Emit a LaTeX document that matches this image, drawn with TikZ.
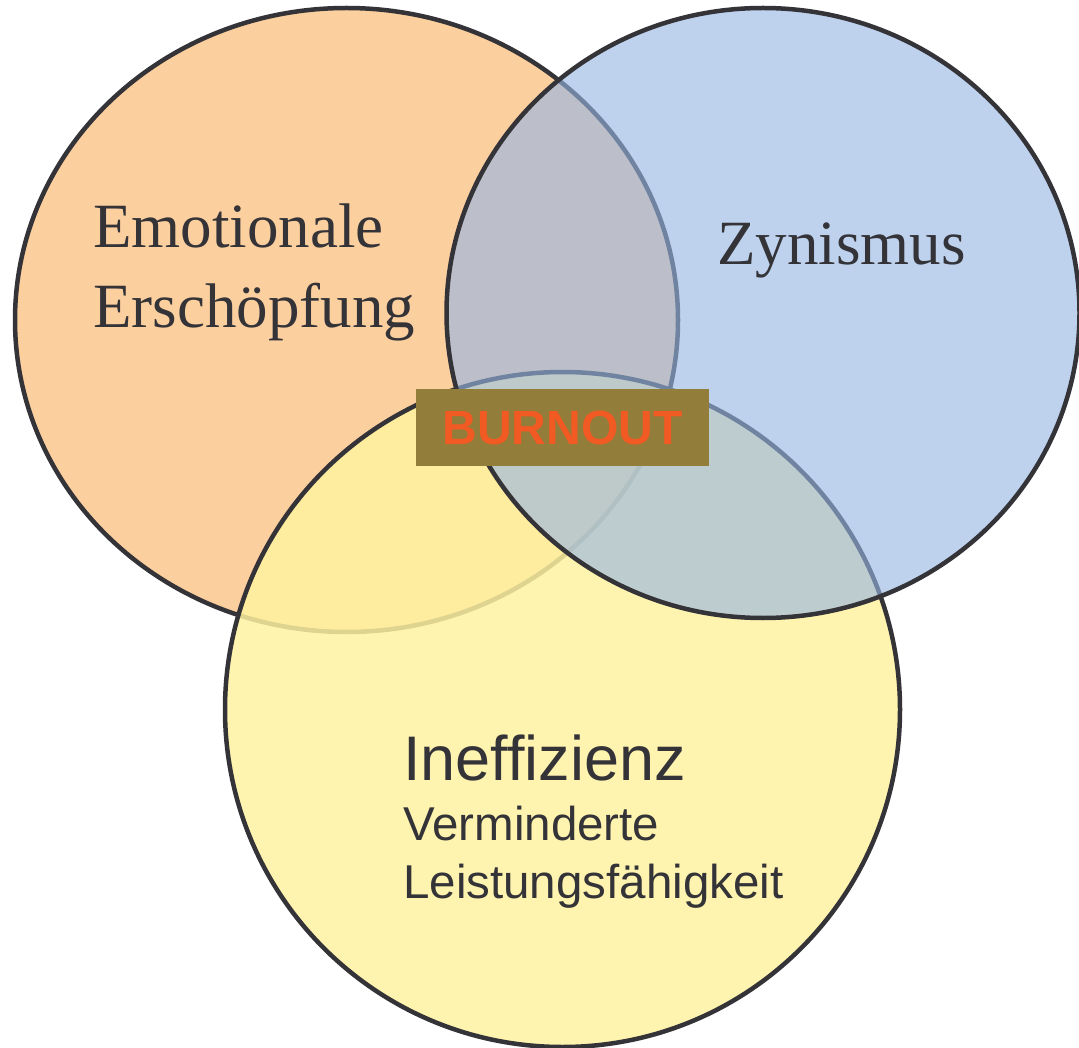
\documentclass[tikz,border=0pt]{standalone}
\usepackage{fontspec}
\setmainfont{Liberation Serif}
\setsansfont{Liberation Sans}
\usetikzlibrary{positioning}
\definecolor{erschfill}{RGB}{252,207,158}
\definecolor{ineffill}{RGB}{255,242,160}
\definecolor{zynfill}{RGB}{150,182,228}
\definecolor{rimgray}{RGB}{51,51,56}
\definecolor{burnbox}{RGB}{147,125,58}
\definecolor{burntext}{RGB}{241,90,34}
\begin{document}
\begin{tikzpicture}[x=1pt,y=-1pt,
    serifword/.style={text=rimgray,inner sep=0,anchor=base west,font=\fontsize{63}{75}\selectfont},
    sansword/.style={text=rimgray,inner sep=0,anchor=base west,font=\sffamily\fontsize{#1}{#1}\selectfont}]
    \useasboundingbox (0,0) rectangle (1079,1048);
    \foreach \cx/\cy/\rx/\ry/\col/\op in {346.5/320/331.5/312/erschfill/1,
                                          562.5/709.5/337.5/337.5/ineffill/0.84,
                                          763/313/316.5/305/zynfill/0.62} {
        \draw[rimgray,line width=4.5pt,fill=\col,fill opacity=\op] (\cx,\cy) ellipse ({\rx pt} and {\ry pt});
    }
    \node[serifword] (emotionale) at (93,248) {Emotionale};
    \node[serifword] (erschoepfung) at (93,328) {Erschöpfung};
    \node[serifword] (zynismus) at (717,265) {Zynismus};
    \node[sansword=63] (ineffizienz) at (403,780) {Ineffizienz};
    \node[sansword=47.5] (vermindert) at (403,840) {Verminderte};
    \node[sansword=47.5] (leistung) at (403,898) {Leistungsfähigkeit};
    \node[fill=burnbox,text=burntext,inner sep=0,minimum width=293pt,minimum height=77pt,
          font=\sffamily\bfseries\fontsize{48}{48}\selectfont] (burnout) at (562.5,427.5) {BURNOUT};
\end{tikzpicture}
\end{document}
